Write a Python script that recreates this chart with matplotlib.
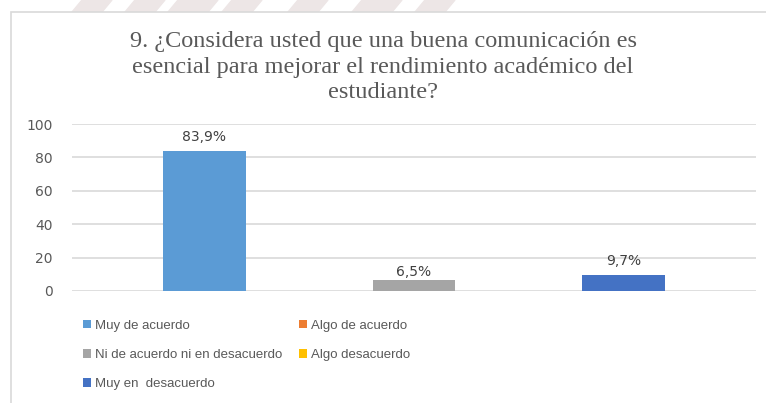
import matplotlib.pyplot as plt
from matplotlib.patches import Rectangle, Polygon

categories = ["Muy de acuerdo", "Algo de acuerdo", "Ni de acuerdo ni en desacuerdo",
              "Algo desacuerdo", "Muy en  desacuerdo"]
values = [83.9, 0, 6.5, 0, 9.7]
labels = ["83,9%", "", "6,5%", "", "9,7%"]
colors = ["#5B9BD5", "#ED7D31", "#A5A5A5", "#FFC000", "#4472C4"]
yticks = [0, 20, 40, 60, 80, 100]
label_gap = [4, 0, 0.8, 0, 4]

W, H = 766, 403
fig = plt.figure(figsize=(W / 100, H / 100), dpi=100)

# faint watermark stripes above the chart frame
for x0 in [82, 135, 178, 232, 298, 362, 425]:
    w = 30 if x0 not in (178, 362) else 40
    pts = [(x0, H), (x0 + w, H), (x0 + w - 10, H - 12), (x0 - 10, H - 12)]
    fig.patches.append(Polygon([(p[0] / W, p[1] / H) for p in pts], closed=True,
                               transform=fig.transFigure, color="#EDE6E6", zorder=-2))

# chart frame
fig.patches.append(Rectangle((11 / W, -0.1), 1, (H - 12) / H + 0.1,
                             transform=fig.transFigure, facecolor="white",
                             edgecolor="#D9D9D9", linewidth=1.2, zorder=-1))

ax = fig.add_axes([72 / W, 1 - 291 / H, (756 - 72) / W, (291 - 124) / H])
ax.set_zorder(2)
ax.set_facecolor("none")
pos = list(range(1, len(values) + 1))
bars = ax.bar(pos, values, width=0.79, color=colors, zorder=2)
for b, v, t, g in zip(bars, values, labels, label_gap):
    if t:
        ax.text(b.get_x() + b.get_width() / 2, v + g, t, ha="center", va="bottom",
                fontsize=10, color="#404040", family="DejaVu Sans")

ax.set_xlim(1 - 1.262, 5 + 1.262)
ax.set_ylim(0, 100)
ax.set_yticks(yticks)
ax.set_xticks([])
ax.grid(axis="y", color="#D9D9D9", linewidth=1.2, zorder=0)
for s in ax.spines.values():
    s.set_visible(False)
ax.tick_params(axis="y", length=0, pad=14, labelsize=10, labelcolor="#595959")

fig.text(0.5, 1 - 67 / H, "9. ¿Considera usted que una buena comunicación es\n"
         "esencial para mejorar el rendimiento académico del\nestudiante?",
         ha="center", va="center", family="Liberation Serif", fontsize=17.5,
         color="#595959", linespacing=1.25)

order = [0, 2, 4, 1, 3]
leg = fig.legend([bars[i] for i in order], [categories[i] for i in order], ncol=2,
                 loc="upper left", bbox_to_anchor=(71 / W, 1 - 308 / H), frameon=False,
                 prop={"family": "Liberation Sans", "size": 9.5},
                 handlelength=0.6, handleheight=0.6, handletextpad=0.3,
                 columnspacing=1.3, labelspacing=1.3, labelcolor="#595959")

fig.savefig("out.png", dpi=100)
